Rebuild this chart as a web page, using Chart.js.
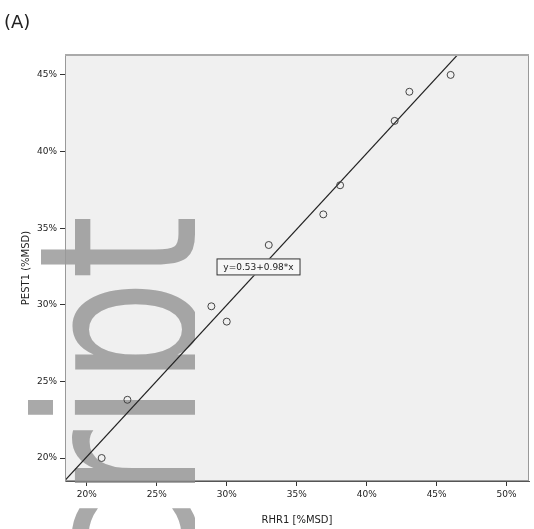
<!DOCTYPE html>
<html>
<head>
<meta charset="utf-8">
<script src="https://cdn.jsdelivr.net/npm/chart.js@4"></script>
<style>
  html, body { margin: 0; padding: 0; background: #fff; }
  #wrap { position: relative; width: 534px; height: 529px; }
</style>
</head>
<body>
<div id="wrap"><canvas id="c" width="534" height="529"></canvas></div>
<script>
// values
const rhr1 = [46.0, 43.05, 42.0, 38.1, 36.9, 33.0, 28.9, 30.0, 22.9, 21.06];
const pest1 = [45.0, 43.9, 42.0, 37.8, 35.9, 33.9, 29.9, 28.9, 23.8, 20.0];
const fitX = [18.4, 48.0];
const fitY = [18.5, 47.8];
const xTicks = [20, 25, 30, 35, 40, 45, 50];
const yTicks = [20, 25, 30, 35, 40, 45];
const fitLabel = 'y=0.53+0.98*x';

const pts = rhr1.map((x, i) => ({ x: x, y: pest1[i] }));
const fit = fitX.map((x, i) => ({ x: x, y: fitY[i] }));

// plot background, frame, (A), equation box, watermark
const deco = {
  id: 'deco',
  beforeDraw(chart) {
    const { ctx, chartArea: a } = chart;
    ctx.save();
    ctx.fillStyle = '#f0f0f0';
    ctx.fillRect(a.left, a.top, a.right - a.left, a.bottom - a.top);
    ctx.restore();
  },
  beforeDatasetsDraw(chart) {
    const ctx = chart.ctx;
    ctx.save();
    ctx.beginPath();
    ctx.rect(0, 200, 195, 329);
    ctx.clip();
    ctx.translate(195, 215);
    ctx.rotate(-Math.PI / 2);
    ctx.scale(0.75, 1);
    ctx.fillStyle = 'rgba(140,140,140,0.75)';
    ctx.font = '220px "DejaVu Sans"';
    ctx.textAlign = 'right';
    ctx.textBaseline = 'alphabetic';
    ctx.fillText('script', 0, 0);
    ctx.restore();
  },
  afterDraw(chart) {
    const { ctx, chartArea: a, scales } = chart;
    ctx.save();
    ctx.strokeStyle = '#999';
    ctx.lineWidth = 1;
    ctx.strokeRect(a.left + 0.5, a.top + 0.5, a.right - a.left - 1, a.bottom - a.top - 1);
    ctx.fillStyle = '#aaa';
    ctx.fillRect(a.left, a.top - 1, a.right - a.left, 2);

    ctx.fillStyle = '#222';
    ctx.font = '18px "DejaVu Sans"';
    ctx.textAlign = 'left';
    ctx.textBaseline = 'middle';
    ctx.fillText('(A)', 4, 23);

    const cx = scales.x.getPixelForValue(32.27);
    const cy = scales.y.getPixelForValue(32.47);
    ctx.font = '9px "DejaVu Sans"';
    const w = 84, h = 17;
    ctx.fillStyle = '#f6f6f6';
    ctx.fillRect(cx - w / 2, cy - h / 2, w, h);
    ctx.strokeStyle = '#333';
    ctx.strokeRect(cx - w / 2 + 0.5, cy - h / 2 + 0.5, w - 1, h - 1);
    ctx.fillStyle = '#222';
    ctx.textAlign = 'center';
    ctx.fillText(fitLabel, cx, cy + 0.5);
    ctx.restore();
  }
};

new Chart(document.getElementById('c'), {
  type: 'scatter',
  data: {
    datasets: [
      {
        data: pts,
        pointStyle: 'circle',
        pointRadius: 3.5,
        pointBorderWidth: 1,
        pointBorderColor: '#444',
        pointBackgroundColor: 'rgba(0,0,0,0)'
      },
      {
        data: fit,
        showLine: true,
        pointRadius: 0,
        borderColor: '#222',
        borderWidth: 1.2
      }
    ]
  },
  options: {
    responsive: false,
    animation: false,
    layout: { padding: { left: 0, top: 55, right: -2, bottom: 0 } },
    plugins: { legend: { display: false }, tooltip: { enabled: false } },
    scales: {
      x: {
        type: 'linear',
        min: 18.44,
        max: 51.6,
        afterBuildTicks: s => { s.ticks = xTicks.map(v => ({ value: v })); },
        afterFit: s => { s.height = 48; s.paddingLeft = 0; s.paddingRight = 0; },
        grid: { drawOnChartArea: false, drawTicks: true, tickLength: 5, color: '#333' },
        border: { display: true, color: '#555' },
        ticks: { callback: v => v + '%', color: '#222', font: { size: 9, family: 'DejaVu Sans' }, padding: 3, maxRotation: 0 },
        title: { display: true, text: 'RHR1 [%MSD]', color: '#222', font: { size: 10, family: 'DejaVu Sans' }, padding: { top: 0, bottom: 3 } }
      },
      y: {
        type: 'linear',
        min: 18.5,
        max: 46.3,
        afterBuildTicks: s => { s.ticks = yTicks.map(v => ({ value: v })); },
        afterFit: s => { s.width = 65; },
        grid: { drawOnChartArea: false, drawTicks: true, tickLength: 5, color: '#333' },
        border: { display: true, color: '#999' },
        ticks: { callback: v => v + '%', color: '#222', font: { size: 9, family: 'DejaVu Sans' }, padding: 3 },
        title: { display: true, text: 'PEST1 (%MSD)', color: '#222', font: { size: 10, family: 'DejaVu Sans' }, padding: { top: 20, bottom: 0 } }
      }
    }
  },
  plugins: [deco]
});
</script>
</body>
</html>
